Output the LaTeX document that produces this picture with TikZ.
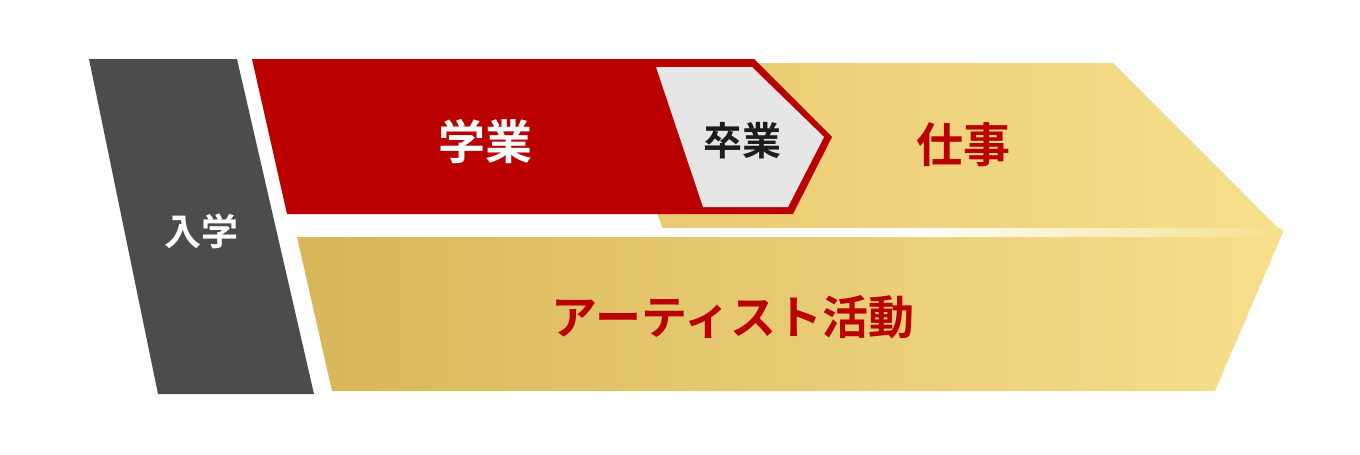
\documentclass[tikz,border=0pt]{standalone}
\usepackage{fontspec}
\usepackage{tikz}
\usepackage{xcolor}
\newfontfamily\jpfont[BoldFont={* Bold}]{Noto Sans CJK JP}

\definecolor{darkgray}{HTML}{4C4C4C}
\definecolor{redband}{HTML}{BB0000}
\definecolor{lightgray}{HTML}{E6E6E6}
\definecolor{goldleft}{HTML}{D8B65A}
\definecolor{goldmid}{HTML}{E9C870}
\definecolor{goldright}{HTML}{F6DF8C}
\definecolor{inkdark}{HTML}{1C1C1C}

\begin{document}
\begin{tikzpicture}[
            x = 1pt, y = -1pt, % pixel coordinates
            label/.style = {font=\jpfont\bfseries\fontsize{#1}{#1}\selectfont, inner sep=0pt},
            label/.default = 46
        ]
\useasboundingbox (0,0) rectangle (1360,455);

% bands
\fill[darkgray] (89,59) -- (237,59) -- (314,394) -- (158,394) -- cycle;
\shade[left color=goldmid, right color=goldright]
    (606,63) -- (1113,63) -- (1283,233) -- (664,233) -- cycle;
\shade[left color=goldleft, right color=goldright]
    (297,237) -- (1281,237) -- (1215,391) -- (332,391) -- cycle;
\fill[white] (640,228) rectangle (900,237);
\shade[left color=white, right color=goldright]
    (900,228) -- (1281,228) -- (1283,232) -- (1281,237) -- (900,237) -- cycle;
\fill[redband] (252,59) -- (754,59) -- (832,137) -- (793,214) -- (287,214) -- cycle;
\fill[lightgray] (656,67) -- (752,67) -- (824,137) -- (788,207) -- (703,207) -- cycle;

% texts
\node[label=37, text=white] (entry) at (201,231) {入学};
\node[label=47, text=white] (study) at (485,142) {学業};
\node[label=39, text=inkdark] (grad) at (742,141) {卒業};
\node[label=47, text=redband] (work) at (963,145) {仕事};
\node[label, text=redband] (artist) at (733,317) {アーティスト活動};
\end{tikzpicture}
\end{document}
